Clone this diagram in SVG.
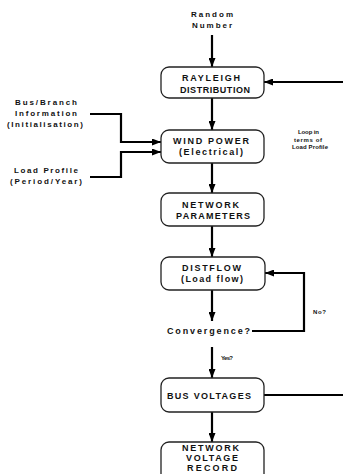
<svg xmlns="http://www.w3.org/2000/svg" width="343" height="474" viewBox="0 0 343 474">
<style>
text{font-family:"Liberation Sans",Arial,sans-serif;font-weight:bold;fill:#111;}
.b{font-size:9px;text-anchor:middle;}
.s{font-size:8px;text-anchor:middle;}
.t{font-size:6px;text-anchor:middle;}
.box{fill:#fff;stroke:#222;stroke-width:1.3;}
.c{fill:none;stroke:#000;stroke-width:2.2;}
</style>
<defs>
<marker id="ah" markerUnits="userSpaceOnUse" markerWidth="9" markerHeight="7" refX="9" refY="3.5" orient="auto">
<path d="M0,0 L9,3.5 L0,7 Z" fill="#000"/>
</marker>
</defs>
<g id="connectors">
<line class="c" x1="212" y1="35" x2="212" y2="67" marker-end="url(#ah)"/>
<line class="c" x1="212" y1="98" x2="212" y2="130" marker-end="url(#ah)"/>
<line class="c" x1="212" y1="163" x2="212" y2="193" marker-end="url(#ah)"/>
<line class="c" x1="212" y1="226" x2="212" y2="257" marker-end="url(#ah)"/>
<line class="c" x1="212" y1="290" x2="212" y2="321" marker-end="url(#ah)"/>
<line class="c" x1="212" y1="347" x2="212" y2="378" marker-end="url(#ah)"/>
<line class="c" x1="212" y1="412" x2="212" y2="442" marker-end="url(#ah)"/>
<line class="c" x1="345" y1="82" x2="264" y2="82" marker-end="url(#ah)"/>
<line class="c" x1="264" y1="395" x2="345" y2="395"/>
<path class="c" d="M252,331 L304,331 L304,273 L265,273" marker-end="url(#ah)"/>
<path class="c" d="M90,114 L121,114 L121,142 L161,142" marker-end="url(#ah)"/>
<path class="c" d="M90,177 L121,177 L121,152 L161,152" marker-end="url(#ah)"/>
</g>
<g id="random">
<text class="s" x="212" y="17" textLength="42">Random</text>
<text class="s" x="212" y="28" textLength="40">Number</text>
</g>
<g id="rayleigh">
<rect class="box" x="161" y="67" width="103" height="31" rx="8"/>
<text class="b" x="211" y="81" textLength="58">RAYLEIGH</text>
<text class="b" x="215" y="93" textLength="70">DISTRIBUTION</text>
</g>
<g id="windpower">
<rect class="box" x="161" y="130" width="103" height="33" rx="8"/>
<text class="b" x="211" y="144" textLength="76">WIND POWER</text>
<text class="b" x="211" y="155" textLength="64">(Electrical)</text>
</g>
<g id="netparams">
<rect class="box" x="161" y="193" width="103" height="33" rx="8"/>
<text class="b" x="210.5" y="208" textLength="57">NETWORK</text>
<text class="b" x="213" y="219" textLength="74">PARAMETERS</text>
</g>
<g id="distflow">
<rect class="box" x="161" y="257" width="104" height="33" rx="8"/>
<text class="b" x="211.5" y="271" textLength="59">DISTFLOW</text>
<text class="b" x="212" y="282" textLength="62">(Load flow)</text>
</g>
<g id="convergence">
<text class="b" x="208.5" y="334" textLength="83">Convergence?</text>
</g>
<g id="busvoltages">
<rect class="box" x="161" y="378" width="103" height="34" rx="8"/>
<text class="b" x="209" y="399" textLength="84">BUS VOLTAGES</text>
</g>
<g id="record">
<rect class="box" x="161" y="442" width="103" height="42" rx="8"/>
<text class="b" x="210.5" y="451" textLength="57">NETWORK</text>
<text class="b" x="212" y="461" textLength="52">VOLTAGE</text>
<text class="b" x="212" y="471" textLength="50">RECORD</text>
</g>
<g id="busbranch">
<text class="s" x="46" y="105" textLength="62">Bus/Branch</text>
<text class="s" x="46" y="116" textLength="62">Information</text>
<text class="s" x="45" y="127" textLength="76">(Initialisation)</text>
</g>
<g id="loadprofile">
<text class="s" x="46" y="173" textLength="64">Load Profile</text>
<text class="s" x="46" y="184" textLength="72">(Period/Year)</text>
</g>
<g id="labels">
<text class="t" x="227" y="360" textLength="12">Yes?</text>
<text class="t" x="319.5" y="314" textLength="13">No?</text>
<text class="t" x="308.5" y="134" textLength="21">Loop in</text>
<text class="t" x="308" y="142" textLength="28">terms of</text>
<text class="t" x="310" y="149" textLength="36">Load Profile</text>
</g>
</svg>
